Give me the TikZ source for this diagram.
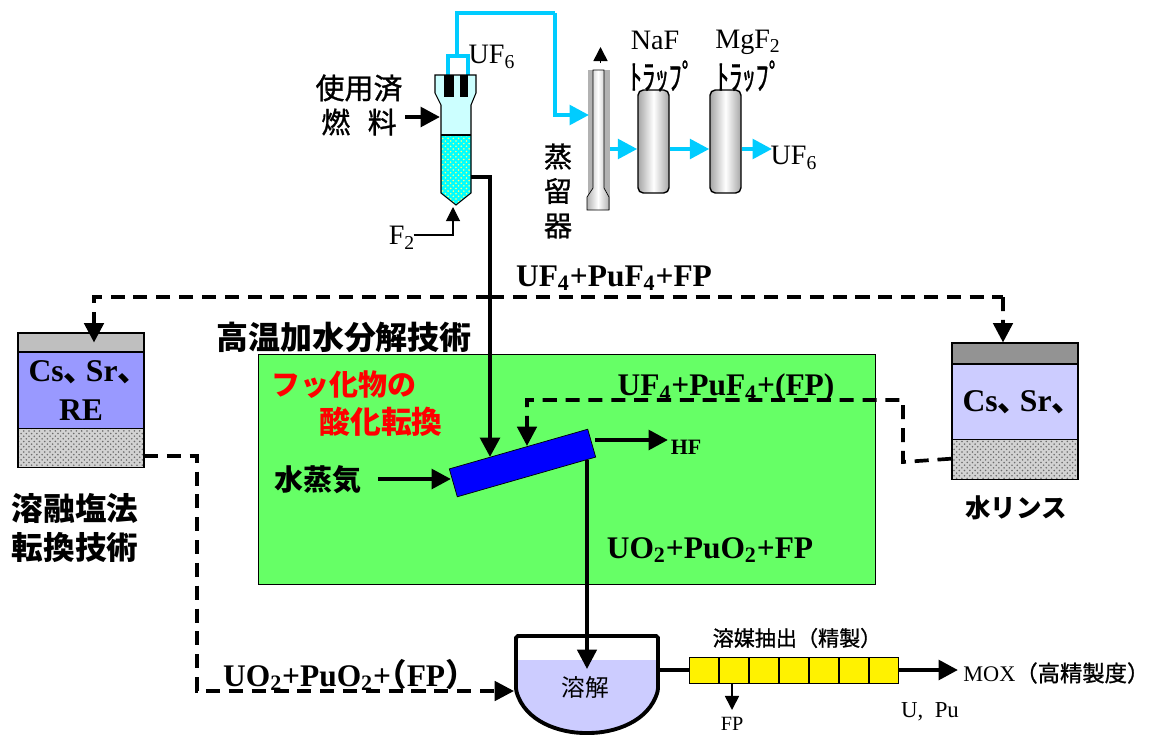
\documentclass[tikz,border=0pt]{standalone}
\usepackage{fontspec}
\setmainfont{Liberation Serif}
\newfontfamily\jpfont{Noto Sans CJK JP}
\newfontfamily\jpmid{Noto Sans CJK JP}[FakeBold=1]
\usepackage{tikz}
\usetikzlibrary{arrows.meta, positioning, patterns, calc}
\definecolor{pipeblue}{RGB}{0,204,255}
\definecolor{leafgreen}{RGB}{102,255,102}
\definecolor{saltblue}{RGB}{153,153,255}
\definecolor{paleblue}{RGB}{204,204,255}
\definecolor{palecyan}{RGB}{204,255,255}
\definecolor{bedcyan}{RGB}{0,255,255}
\definecolor{bedyellow}{RGB}{255,255,120}
\newcommand{\fsz}[1]{\fontsize{#1}{#1}\selectfont}
\newcommand{\tou}{{\jpfont 、}\kern-0.3em}
\begin{document}
\begin{tikzpicture}[
        x=0.02cm, y=-0.02cm,
        node distance=0pt,
        layer/.style={rectangle, draw=black, semithick, inner sep=0pt, align=center, minimum width=2.52cm},
        hatchlayer/.style={layer, preaction={fill=gray!35}, pattern=crosshatch dots, pattern color=gray!85!black},
        trapbox/.style={rectangle, draw=black, thick, rounded corners=3pt, minimum width=0.62cm, minimum height=2.06cm,
                        left color=gray!70, right color=gray!70, middle color=white},
        cellbox/.style={rectangle, draw=black, fill=yellow, inner sep=0pt, minimum width=0.585cm, minimum height=0.52cm},
        latinlabel/.style={inner sep=0pt, font=\fsz{16}},
        boldlabel/.style={inner sep=0pt, font=\bfseries\fsz{17.9}},
        jplabel/.style={inner sep=0pt, align=center, font=\jpmid\fsz{16.5}},
        jpbold/.style={inner sep=0pt, align=center, font=\jpfont\bfseries\fsz{18.2}},
        arrow/.style={draw, line width=2.5pt, -{Triangle[length=11pt, width=11pt]}},
        thinarrow/.style={draw, line width=0.9pt, -{Triangle[length=8pt, width=8pt]}},
        bluearrow/.style={draw=pipeblue, line width=2.4pt, -{Triangle[length=11pt, width=11pt]}},
        dasharrow/.style={draw, line width=2.1pt, dash pattern=on 8pt off 5pt, -{Triangle[length=11pt, width=11pt]}},
        dashline/.style={draw, line width=2.1pt, dash pattern=on 8pt off 5pt}
    ]
        \useasboundingbox (0,0) rectangle (1150,734);
        \node [rectangle, draw=black, fill=leafgreen, inner sep=0pt, minimum width=12.34cm, minimum height=4.6cm] (hydro) at (567,469) {};
        \path [draw=pipeblue, line width=2.2pt] (448,76) -- (448,56) -- (468,56) -- (468,76);
        \fill [palecyan] (435,75) -- (476,75) -- (476,93) -- (471,105) -- (471,135) -- (441,135) -- (441,105) -- (435,93) -- cycle;
        \path [preaction={fill=bedcyan}, pattern=crosshatch dots, pattern color=bedyellow] (441,135) -- (471,135) -- (471,193) -- (456,205) -- (441,193) -- cycle;
        \draw [semithick] (435,75) -- (476,75) -- (476,93) -- (471,105) -- (471,193) -- (456,205) -- (441,193) -- (441,105) -- (435,93) -- cycle;
        \draw [semithick] (441,135) -- (471,135);
        \fill (444,75) rectangle (454,97);
        \fill (460,75) rectangle (468,97);
        \coordinate (loopout) at (457,56);
        \coordinate (bendtop) at (555,13);
        \coordinate (reactorout) at (471,177);
        \coordinate (split) at (490,297);
        \coordinate (kilnin) at (490,457);
        \coordinate (kilnreturn) at (527,446);
        \node [rectangle, fill=gray!60, inner sep=0pt, minimum width=0.44cm, minimum height=2.8cm] (still) at (599,140) {};
        \shade [left color=gray!60, right color=gray!60, middle color=white, draw=black] (593,70) -- (604,70) -- (604,188) -- (609,197) -- (609,210) -- (587,210) -- (587,197) -- (593,188) -- cycle;
        \node [trapbox] (naf) at (653.5,141.5) {};
        \node [trapbox] (mgf) at (725.5,141.5) {};
        \node [jplabel] (feed1) at (359,88) {使用済};
        \node [jplabel] (feed2) at (359,122) {燃\hspace{0.6em}料};
        \node [latinlabel] (uftop) at (492,57) {UF\textsubscript{6}};
        \node [latinlabel] (ftwo) at (402,238) {F\textsubscript{2}};
        \node [latinlabel] (nafname) at (655,40) {NaF};
        \node [latinlabel] (mgfname) at (748,42) {MgF\textsubscript{2}};
        \node [jplabel, font=\jpmid\fsz{15}] (naftrap) at (662,76) {\scalebox{1}[1.3]{ﾄﾗｯﾌﾟ}};
        \node [jplabel, font=\jpmid\fsz{15}] (mgftrap) at (749,76) {\scalebox{1}[1.3]{ﾄﾗｯﾌﾟ}};
        \node [jplabel, font=\jpmid\fontsize{16}{19.6}\selectfont] (stillname) at (558,191) {蒸\\留\\器};
        \node [latinlabel] (ufout) at (794,158) {UF\textsubscript{6}};
        \node [boldlabel] (mixtop) at (614,278) {UF\textsubscript{4}+PuF\textsubscript{4}+FP};
        \node [jpbold] (hydroname) at (344,337) {高温加水分解技術};
        \node [jpbold, text=red, font=\jpfont\bfseries\fsz{16.5}] (oxide1) at (344,385) {フッ化物の};
        \node [jpbold, text=red, font=\jpfont\bfseries\fsz{17.5}] (oxide2) at (381,422) {酸化転換};
        \node [boldlabel] (mixin) at (726,388) {UF\textsubscript{4}+PuF\textsubscript{4}+(FP)};
        \node [jpbold, font=\jpfont\bfseries\fsz{16.5}] (steam) at (318,480) {水蒸気};
        \node [rectangle, draw=black, fill=blue, inner sep=0pt, minimum width=2.88cm, minimum height=0.58cm, rotate=16] (kiln) at (522.5,463) {};
        \node [boldlabel, font=\bfseries\fsz{12.5}] (hf) at (686,447) {HF};
        \node [boldlabel] (oxout) at (710,550) {UO\textsubscript{2}+PuO\textsubscript{2}+FP};
        \node [layer, fill=gray!50, minimum height=0.38cm] (lefttop) at (81,342.5) {};
        \node [layer, fill=saltblue, minimum height=1.52cm, below=of lefttop, font=\bfseries\fontsize{18}{22}\selectfont, yshift=0.4pt] (leftsalt) {Cs\tou Sr\tou\kern-0.2em\\RE};
        \node [hatchlayer, minimum height=0.78cm, below=of leftsalt, yshift=0.4pt] (lefthatch) {};
        \node [jpbold, font=\jpfont\bfseries\fsz{18}] (melt1) at (75,508) {溶融塩法};
        \node [jpbold, font=\jpfont\bfseries\fsz{18}] (melt2) at (75,547) {転換技術};
        \node [layer, fill=gray!85, minimum height=0.42cm] (righttop) at (1015,353.5) {};
        \node [layer, fill=paleblue, minimum height=1.5cm, below=of righttop, font=\bfseries\fsz{18}, yshift=0.4pt] (rightsalt) {Cs\tou Sr\tou\kern-0.2em};
        \node [hatchlayer, minimum height=0.8cm, below=of rightsalt, yshift=0.4pt] (righthatch) {};
        \node [jpbold, font=\jpfont\bfseries\fsz{14.5}] (rinse) at (1016,508) {水リンス};
        \fill [paleblue] (516,660) -- (658,660) -- (658,690) .. controls (649,722) and (614,733) .. (587,733) .. controls (560,733) and (525,722) .. (516,690) -- cycle;
        \draw [line width=2.2pt, rounded corners=1pt] (516,636) -- (658,636) -- (658,690) .. controls (649,722) and (614,733) .. (587,733) .. controls (560,733) and (525,722) .. (516,690) -- cycle;
        \node [jplabel, font=\jpfont\fsz{13.5}] (dissolve) at (585,687) {溶解};
        \node [cellbox] (cell1) at (704,670) {};
        \node [cellbox, right=of cell1] (cell2) {};
        \node [cellbox, right=of cell2] (cell3) {};
        \node [cellbox, right=of cell3] (cell4) {};
        \node [cellbox, right=of cell4] (cell5) {};
        \node [cellbox, right=of cell5] (cell6) {};
        \node [cellbox, right=of cell6] (cell7) {};
        \node [jplabel, font=\jpmid\fsz{12}] (solvent) at (797,638) {溶媒抽出（精製）};
        \node [latinlabel, font=\fsz{11.5}] (fpout) at (732,724) {FP};
        \node [latinlabel, font=\fsz{13}] (upu) at (930,712) {U,\hspace{0.5em}Pu};
        \node [latinlabel, font=\fsz{12.7}, anchor=west] (mox) at (963,673) {MOX{\jpmid（高精製度）}};
        \node [boldlabel] (oxback) at (342,675) {UO\textsubscript{2}+PuO\textsubscript{2}+\kern-0.5em{\jpfont（}FP{\jpfont）}\kern-0.5em};
        \coordinate (stilltip) at (600.5,47);
        \path [draw=pipeblue, line width=2.4pt] (loopout) -- (457,13) -- (bendtop);
        \path [bluearrow] (bendtop) -- (555,115) -- (589,115);
        \path [thinarrow] (600.5,63) -- (stilltip);
        \path [bluearrow] (610,149) -- (naf.west |- 0,149);
        \path [bluearrow] (naf.east |- 0,149) -- (mgf.west |- 0,149);
        \path [bluearrow] (mgf.east |- 0,149) -- (772,149);
        \path [arrow] (405,117) -- (440,117);
        \path [draw, semithick, -{Triangle[length=8pt, width=8pt]}] (ftwo.east) ++(-2,-3) -| (453,207);
        \path [arrow] (reactorout) -| (kilnin);
        \path [dashline] (split) -- (1003,297);
        \path [dasharrow] (split) -| ([xshift=0.26cm]lefttop.center);
        \path [dasharrow] (1003,297) -- ([xshift=-0.24cm]righttop.north);
        \path [dasharrow] (righthatch.west) ++(0,-1) -- (903,462) -- (903,400) -| (kilnreturn);
        \path [arrow] (steam.east) ++(16,-1) -- (451,479);
        \path [arrow] (595,440) -- (668,440);
        \path [draw, line width=1.9pt, -{Triangle[length=11pt, width=11pt]}] (587,460) -- (587,669);
        \path [dasharrow] (144,456) -| (197,691) -- (514,691);
        \path [draw, line width=2.2pt] (658,670) -- (cell1.west);
        \path [arrow] (cell7.east) -- (958,670);
        \path [thinarrow] (732,683) -- (732,710);
    \end{tikzpicture}
\end{document}
